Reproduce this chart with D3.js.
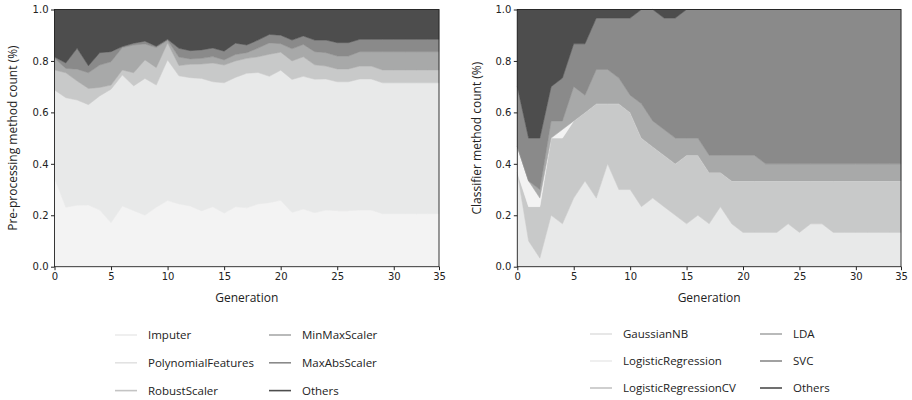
<!DOCTYPE html>
<html>
<head>
<meta charset="utf-8">
<script src="https://cdn.jsdelivr.net/npm/d3@7"></script>
<style>
  body { margin: 0; background: #fff; }
  .tick text { font-family: "DejaVu Sans", sans-serif; font-size: 10px; fill: #222; }
  .lbl { font-family: "Open Sans", sans-serif; font-size: 12px; fill: #222; }
  .leg { font-family: "Open Sans", sans-serif; font-size: 11.5px; fill: #222; }
</style>
</head>
<body>
<div id="chart"></div>
<script>
// generations 0..34 (the last tick is labelled 35)
const generations = d3.range(0, 35);
const xTickValues = [0, 5, 10, 15, 20, 25, 30, 34];
const xTickLabels = ["0", "5", "10", "15", "20", "25", "30", "35"];
const yTickValues = [0, 0.2, 0.4, 0.6, 0.8, 1.0];

// left panel: pre-processing share per generation
const imputer = [0.344, 0.231, 0.239, 0.240, 0.220, 0.171, 0.236, 0.218, 0.200, 0.231, 0.257, 0.244, 0.236, 0.217, 0.233, 0.208, 0.233, 0.229, 0.244, 0.249, 0.258, 0.211, 0.224, 0.210, 0.220, 0.218, 0.218, 0.220, 0.220, 0.206, 0.206, 0.206, 0.206, 0.206, 0.206];
const polynomialFeatures = [0.343, 0.426, 0.409, 0.390, 0.444, 0.519, 0.509, 0.485, 0.532, 0.475, 0.547, 0.498, 0.499, 0.515, 0.486, 0.507, 0.503, 0.523, 0.511, 0.491, 0.506, 0.517, 0.516, 0.519, 0.510, 0.501, 0.501, 0.510, 0.510, 0.509, 0.509, 0.509, 0.509, 0.509, 0.509];
const robustScaler = [0.078, 0.097, 0.074, 0.063, 0.033, 0.016, 0.020, 0.051, 0.072, 0.068, 0.066, 0.040, 0.052, 0.056, 0.073, 0.069, 0.064, 0.058, 0.061, 0.086, 0.070, 0.072, 0.076, 0.056, 0.050, 0.050, 0.050, 0.050, 0.050, 0.050, 0.050, 0.050, 0.050, 0.050, 0.050];
const minMaxScaler = [0.045, 0.017, 0.046, 0.061, 0.087, 0.091, 0.087, 0.108, 0.062, 0.078, 0.010, 0.033, 0.021, 0.022, 0.025, 0.020, 0.025, 0.022, 0.034, 0.044, 0.033, 0.047, 0.048, 0.051, 0.052, 0.050, 0.050, 0.056, 0.056, 0.071, 0.071, 0.071, 0.071, 0.071, 0.071];
const maxAbsScaler = [0.005, 0.021, 0.081, 0.027, 0.048, 0.039, 0.004, 0.007, 0.011, 0.005, 0.004, 0.034, 0.032, 0.033, 0.033, 0.034, 0.044, 0.030, 0.031, 0.033, 0.033, 0.034, 0.033, 0.045, 0.049, 0.052, 0.052, 0.048, 0.048, 0.048, 0.048, 0.048, 0.048, 0.048, 0.048];
const preOthers = [0.185, 0.208, 0.151, 0.219, 0.168, 0.164, 0.144, 0.131, 0.123, 0.143, 0.116, 0.151, 0.160, 0.157, 0.150, 0.162, 0.131, 0.138, 0.119, 0.097, 0.100, 0.119, 0.103, 0.119, 0.119, 0.129, 0.129, 0.116, 0.116, 0.116, 0.116, 0.116, 0.116, 0.116, 0.116];

// right panel: classifier counts out of a population of 30
const popSize = 30;
const gaussianNB = [11, 3, 1, 6, 5, 8, 10, 8, 12, 9, 9, 7, 8, 7, 6, 5, 6, 5, 7, 5, 4, 4, 4, 4, 5, 4, 5, 5, 4, 4, 4, 4, 4, 4, 4];
const logisticRegression = [3, 3, 1, 0, 1, 0, 0, 0, 0, 0, 0, 0, 0, 0, 0, 0, 0, 0, 0, 0, 0, 0, 0, 0, 0, 0, 0, 0, 0, 0, 0, 0, 0, 0, 0];
const logisticRegressionCV = [0, 4, 6, 9, 10, 9, 8, 11, 7, 10, 9, 8, 6, 6, 6, 8, 7, 6, 4, 5, 6, 6, 6, 6, 5, 6, 5, 5, 6, 6, 6, 6, 6, 6, 6];
const lda = [0, 0, 1, 2, 1, 4, 2, 4, 4, 3, 2, 4, 3, 3, 3, 2, 2, 2, 2, 3, 3, 3, 2, 2, 2, 2, 2, 2, 2, 2, 2, 2, 2, 2, 2];
const svc = [7, 5, 6, 4, 5, 5, 6, 6, 6, 7, 9, 11, 13, 13, 14, 15, 15, 17, 17, 17, 17, 17, 18, 18, 18, 18, 18, 18, 18, 18, 18, 18, 18, 18, 18];
const clfOthers = [9, 15, 15, 9, 8, 4, 4, 1, 1, 1, 1, 0, 0, 1, 1, 0, 0, 0, 0, 0, 0, 0, 0, 0, 0, 0, 0, 0, 0, 0, 0, 0, 0, 0, 0];

const greys = {
  g1: "#f3f3f3", g2: "#e8e9e9", g3: "#c8c9c9",
  g4: "#a8a9a9", g5: "#8a8a8a", g6: "#4d4d4d"
};

const W = 912, H = 400;
const svg = d3.select("#chart").append("svg")
  .attr("width", W).attr("height", H);

function buildRows(series, scale) {
  return generations.map((g, i) => {
    var row = { gen: g };
    series.forEach(s => { row[s.key] = s.values[i] / scale; });
    return row;
  });
}

function drawPanel(p) {
  const x = d3.scaleLinear().domain([0, 34]).range([p.left, p.right]);
  const y = d3.scaleLinear().domain([0, 1]).range([p.bottom, p.top]);

  const rows = buildRows(p.series, p.scale);
  const stack = d3.stack().keys(p.stackOrder);
  const layers = stack(rows);
  const colorOf = {};
  p.series.forEach(s => colorOf[s.key] = s.color);

  const area = d3.area()
    .x(d => x(d.data.gen))
    .y0(d => y(d[0]))
    .y1(d => y(d[1]));

  const g = svg.append("g");
  g.selectAll("path.layer")
    .data(layers)
    .enter()
    .append("path")
    .attr("class", "layer")
    .attr("d", area)
    .attr("fill", d => colorOf[d.key])
    .attr("stroke", d => colorOf[d.key])
    .attr("stroke-width", 0.5);

  // frame
  g.append("rect")
    .attr("x", p.left).attr("y", p.top)
    .attr("width", p.right - p.left).attr("height", p.bottom - p.top)
    .attr("fill", "none").attr("stroke", "#222").attr("stroke-width", 0.9);

  g.append("g")
    .attr("transform", `translate(0,${p.bottom})`)
    .call(d3.axisBottom(x).tickValues(xTickValues)
      .tickFormat((d, i) => xTickLabels[i]).tickSizeOuter(0).tickSize(3.5).tickPadding(2.5))
    .call(a => a.select(".domain").remove());

  g.append("g")
    .attr("transform", `translate(${p.left},0)`)
    .call(d3.axisLeft(y).tickValues(yTickValues)
      .tickFormat(d3.format(".1f")).tickSizeOuter(0).tickSize(3.5).tickPadding(2.5))
    .call(a => a.select(".domain").remove());

  g.selectAll(".tick line").attr("stroke", "#222");

  g.append("text").attr("class", "lbl")
    .attr("x", (p.left + p.right) / 2).attr("y", 302)
    .attr("text-anchor", "middle")
    .text("Generation");

  g.append("text").attr("class", "lbl")
    .attr("transform", `translate(${p.ylabelX},${(p.top + p.bottom) / 2}) rotate(-90)`)
    .attr("text-anchor", "middle")
    .text(p.ylabel);

  // legend, two columns filled column-wise
  const leg = g.selectAll("g.leg")
    .data(p.series)
    .enter()
    .append("g")
    .attr("transform", (d, i) => {
      var col = Math.floor(i / 3), row = i % 3;
      return `translate(${p.legX[col]},${p.legY + row * p.legStep})`;
    });
  leg.append("line")
    .attr("x1", 0).attr("x2", 22)
    .attr("stroke", d => d.legColor || d.color)
    .attr("stroke-width", 1.6);
  leg.append("text").attr("class", "leg")
    .attr("x", 33).attr("dy", "0.35em")
    .text(d => d.key);
}

drawPanel({
  left: 54.5, right: 439, top: 9.5, bottom: 266.7,
  ylabel: "Pre-processing method count (%)", ylabelX: 17,
  scale: 1,
  series: [
    { key: "Imputer", values: imputer, color: greys.g1, legColor: "#ececec" },
    { key: "PolynomialFeatures", values: polynomialFeatures, color: greys.g2, legColor: "#e2e2e2" },
    { key: "RobustScaler", values: robustScaler, color: greys.g3, legColor: "#c4c4c4" },
    { key: "MinMaxScaler", values: minMaxScaler, color: greys.g4 },
    { key: "MaxAbsScaler", values: maxAbsScaler, color: greys.g5 },
    { key: "Others", values: preOthers, color: greys.g6 }
  ],
  stackOrder: ["Imputer", "PolynomialFeatures", "RobustScaler", "MinMaxScaler", "MaxAbsScaler", "Others"],
  legX: [115, 269], legY: 335, legStep: 27.8
});

drawPanel({
  left: 517.3, right: 901, top: 9.5, bottom: 266.7,
  ylabel: "Classifier method count (%)", ylabelX: 481,
  scale: popSize,
  series: [
    { key: "GaussianNB", values: gaussianNB, color: greys.g2, legColor: "#e2e2e2" },
    { key: "LogisticRegression", values: logisticRegression, color: greys.g1, legColor: "#ececec" },
    { key: "LogisticRegressionCV", values: logisticRegressionCV, color: greys.g3, legColor: "#c4c4c4" },
    { key: "LDA", values: lda, color: greys.g4 },
    { key: "SVC", values: svc, color: greys.g5 },
    { key: "Others", values: clfOthers, color: greys.g6 }
  ],
  stackOrder: ["GaussianNB", "LogisticRegressionCV", "LogisticRegression", "LDA", "SVC", "Others"],
  legX: [590, 760], legY: 334, legStep: 27
});
</script>
</body>
</html>
